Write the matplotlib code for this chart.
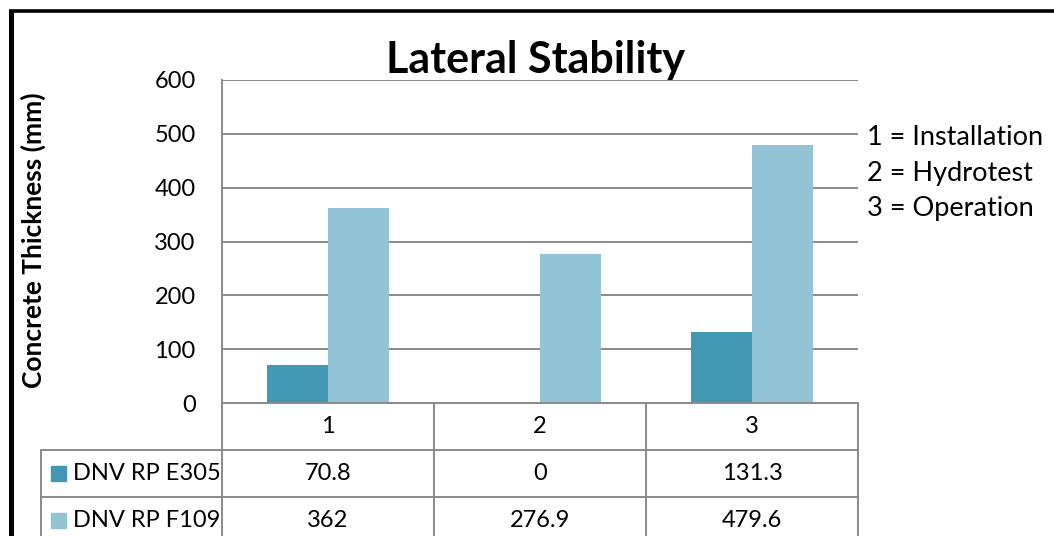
import numpy as np
import matplotlib
matplotlib.use("Agg")
from matplotlib import pyplot as plt
from matplotlib.lines import Line2D
from matplotlib.patches import Rectangle

# lateral stability results, concrete thickness in mm
categories = ["1", "2", "3"]
series_names = ["DNV RP E305", "DNV RP F109"]
e305 = [70.8, 0, 131.3]
f109 = [362, 276.9, 479.6]
e305_labels = ["70.8", "0", "131.3"]
f109_labels = ["362", "276.9", "479.6"]
yticks = [0, 100, 200, 300, 400, 500, 600]
notes = ["1 = Installation", "2 = Hydrotest", "3 = Operation"]

W, H = 1054, 536
dark = "#4398b1"
light = "#93c4d5"
grid_c = "#8a8a8a"
plt.rcParams["font.family"] = ["Lato", "DejaVu Sans"]
fs = 17


def box(x0, y0, x1, y1):
    # pixel box (top-left origin) -> figure fraction
    return [x0 / W, 1 - y1 / H, (x1 - x0) / W, (y1 - y0) / H]


fig = plt.figure(figsize=(W / 100, H / 100), dpi=100)

# bar chart area
ax = fig.add_axes(box(222, 80, 858, 403))
x = np.arange(len(categories)) + 0.5
bw = 0.287
ax.bar(x - bw / 2, e305, bw, color=dark, zorder=3)
ax.bar(x + bw / 2, f109, bw, color=light, zorder=3)
ax.set_xlim(0, 3)
ax.set_ylim(0, 600)
ax.set_yticks(yticks)
ax.set_yticklabels([str(v) for v in yticks], fontsize=fs)
ax.set_xticks([])
ax.tick_params(axis="y", length=0, pad=19)
ax.yaxis.grid(True, color=grid_c, lw=1.4, zorder=0)
for s in ["top", "right", "bottom"]:
    ax.spines[s].set_visible(False)
ax.spines["left"].set_color(grid_c)
ax.spines["left"].set_linewidth(1.4)

# data table under the chart
row_h = 47
tab = fig.add_axes(box(41, 403, 858, 536))
x_left = (41 - 222) / 212
tab.set_xlim(x_left, 3)
tab.set_ylim((536 - 403) / row_h, 0)
tab.axis("off")
for xv in range(len(categories) + 1):
    tab.plot([xv, xv], [0, 3], color=grid_c, lw=1.4, clip_on=False)
tab.plot([x_left, x_left], [1, 3], color=grid_c, lw=1.4, clip_on=False)
tab.plot([0, 3], [0, 0], color=grid_c, lw=1.4, clip_on=False)
for yv in [1, 2]:
    tab.plot([x_left, 3], [yv, yv], color=grid_c, lw=1.4, clip_on=False)

for i, c in enumerate(categories):
    tab.text(i + 0.5, 0.5, c, ha="center", va="center", fontsize=fs)
for r, (name, col, labels) in enumerate(
        zip(series_names, [dark, light], [e305_labels, f109_labels])):
    yc = r + 1.5
    tab.add_patch(Rectangle(((51 - 222) / 212, yc - 7.5 / row_h), 15 / 212,
                            15 / row_h, color=col, clip_on=False))
    tab.text((73 - 222) / 212, yc, name, ha="left", va="center", fontsize=fs)
    for i, lab in enumerate(labels):
        tab.text(i + 0.5, yc, lab, ha="center", va="center", fontsize=fs)

# title, axis label and category key
fig.text(536 / W, 1 - 73 / H, "Lateral Stability", ha="center",
         va="baseline", fontsize=31, fontweight="bold")
fig.text(33 / W, 1 - 240 / H, "Concrete Thickness (mm)", rotation=90,
         ha="center", va="center", fontsize=19, fontweight="bold")
for k, t in enumerate(notes):
    fig.text(867 / W, 1 - (145 + 35.5 * k) / H, t, ha="left", va="baseline",
             fontsize=19.5)

# outer frame
fig.add_artist(Line2D([10.5 / W, 10.5 / W], [0, 1 - 12.5 / H], color="black",
                      lw=3.6, transform=fig.transFigure))
fig.add_artist(Line2D([8.5 / W, 1], [1 - 11 / H, 1 - 11 / H], color="black",
                      lw=2.6, transform=fig.transFigure, solid_capstyle="butt"))

fig.savefig("out.png", dpi=100)
